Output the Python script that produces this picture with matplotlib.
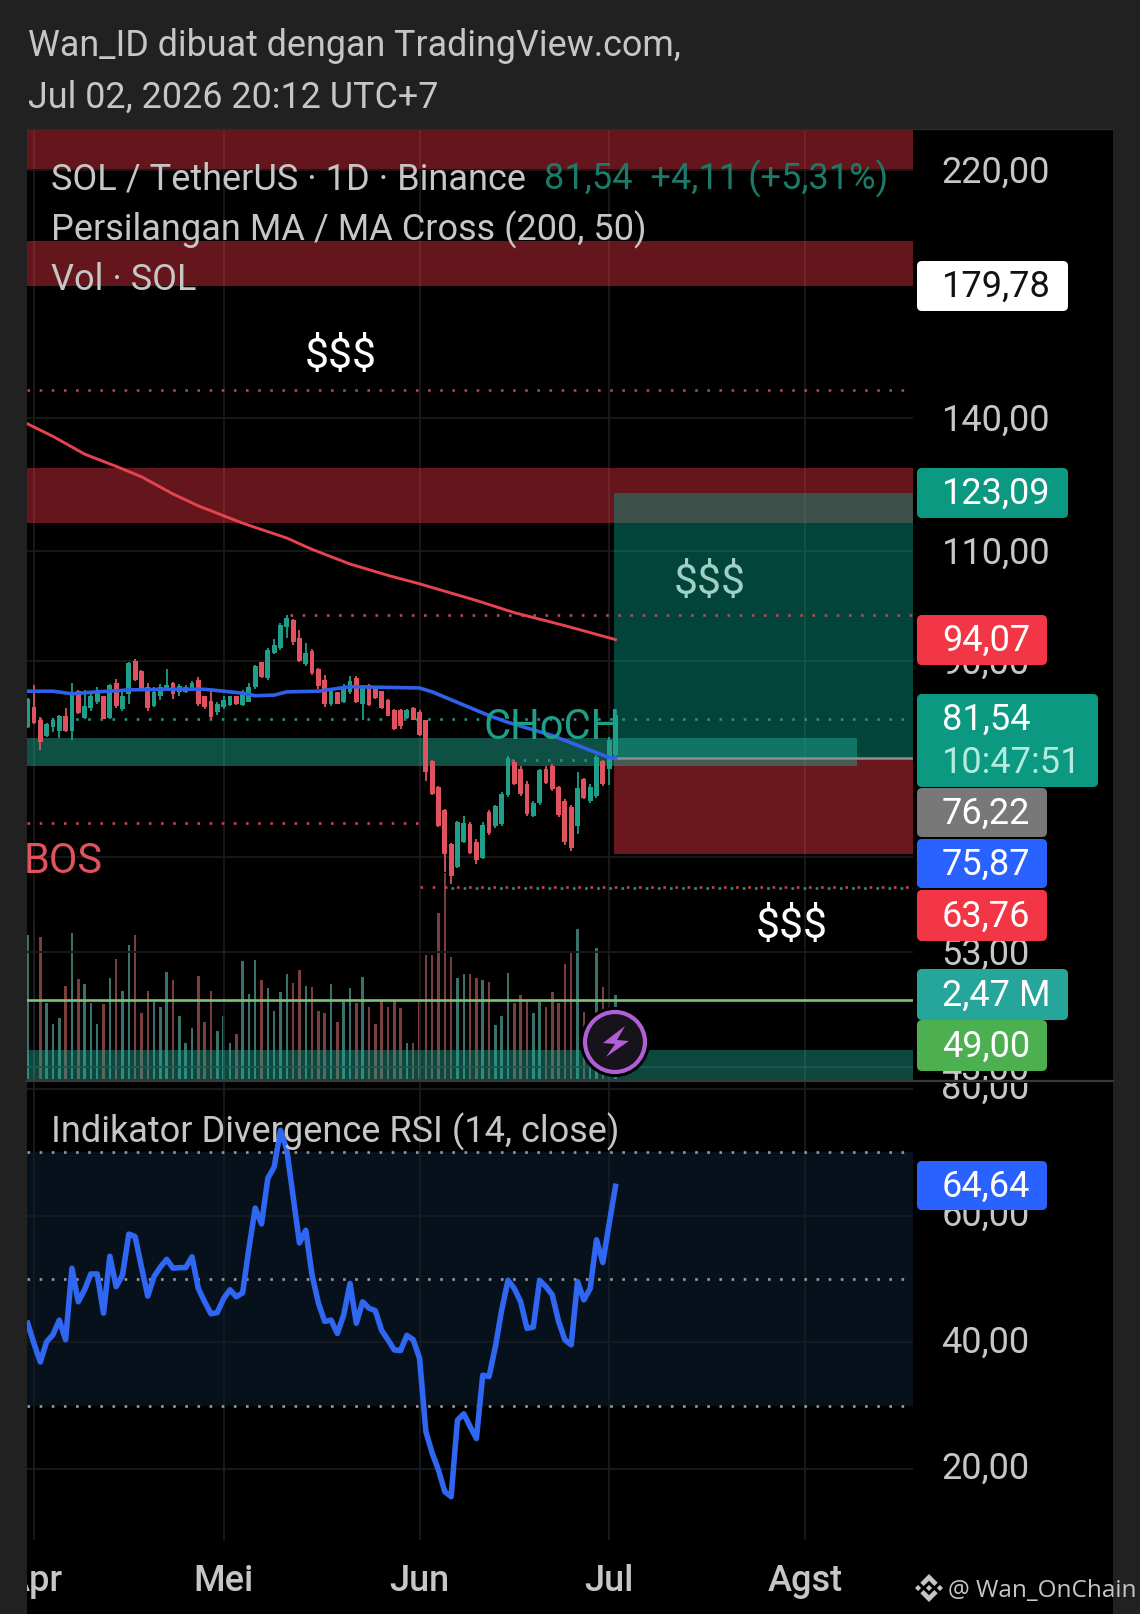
import matplotlib
matplotlib.use("Agg")
import matplotlib.pyplot as plt
import numpy as np
from matplotlib.patches import Circle, FancyBboxPatch, Polygon
from matplotlib.ticker import NullFormatter, NullLocator
from matplotlib.transforms import Bbox, ScaledTranslation

plt.rcParams["font.family"] = ["Roboto", "DejaVu Sans"]

# days counted from Apr 1, one candle per day from Mar 31 to Jul 2
days = list(range(-1, 93))

opens = [79.8, 82.8, 80.8, 78.5, 79.8, 79.3, 81.5, 79.3, 85.3, 81.1, 82.6, 83.5, 84.5, 81.2, 86.5, 82.5,
         84.8, 90.0, 88.4, 85.8, 82.9, 84.5, 85.5, 86.5, 85.0, 85.1, 85.4, 87.0, 84.4, 83.7, 82.0, 82.8,
         83.1, 84.4, 83.1, 83.6, 85.8, 89.8, 87.2, 91.4, 92.2, 95.7, 97.0, 93.9, 89.5, 91.6, 88.7,
         87.0, 83.2, 85.0, 83.5, 85.0, 87.2, 83.3, 86.2, 85.5, 85.2, 83.9, 82.3, 82.3, 81.2, 82.6, 82.0,
         80.8, 75.0, 71.5, 68.6, 64.5, 61.9, 64.8, 66.9, 64.8, 62.9, 68.4, 66.6, 66.9, 70.5, 74.9, 74.0,
         72.0, 67.9, 69.5, 74.0, 74.4, 71.5, 69.8, 69.0, 66.7, 72.6, 69.8, 70.4, 75.0, 74.0, 75.8]
highs = [84.2, 86.1, 81.3, 80.4, 81.1, 81.6, 82.7, 86.5, 85.4, 85.4, 84.9, 85.8, 84.5, 86.3, 87.1, 85.3,
         89.9, 90.3, 88.6, 86.5, 85.8, 86.3, 88.7, 86.7, 86.3, 86.1, 86.8, 87.4, 84.5, 85.3, 83.6, 84.4,
         84.5, 84.5, 85.4, 86.5, 89.4, 89.9, 92.2, 93.7, 96.4, 97.9, 97.1, 95.3, 93.0, 92.0, 88.9,
         87.7, 85.5, 85.1, 86.4, 87.6, 87.6, 86.1, 86.4, 85.6, 85.3, 84.0, 82.5, 82.5, 82.5, 82.8, 82.3,
         80.9, 75.2, 71.7, 68.8, 64.6, 67.3, 67.9, 67.1, 65.1, 67.1, 68.6, 69.3, 70.9, 75.7, 75.2, 74.3,
         72.3, 69.8, 74.0, 74.3, 74.6, 71.7, 70.0, 69.2, 73.5, 72.8, 72.0, 75.9, 75.2, 78.4, 82.5]
lows = [79.7, 80.3, 76.5, 78.4, 79.1, 78.2, 79.1, 78.0, 81.7, 81.0, 82.2, 83.2, 81.0, 81.0, 82.7, 82.2,
        83.2, 86.8, 85.3, 82.2, 82.8, 83.9, 85.3, 84.0, 84.5, 84.9, 85.3, 83.0, 82.5, 81.0, 81.6, 82.5,
        83.0, 83.1, 82.9, 83.5, 85.6, 87.2, 87.0, 91.2, 91.9, 93.9, 92.7, 89.8, 89.2, 87.8, 85.5,
        82.8, 82.9, 83.2, 83.4, 84.8, 83.4, 80.9, 83.0, 84.0, 82.5, 81.4, 79.4, 79.6, 81.0, 80.8, 78.5,
        72.3, 70.5, 66.5, 61.3, 60.0, 61.7, 64.6, 63.4, 62.2, 62.8, 65.6, 66.4, 66.7, 70.3, 71.8, 70.4,
        67.9, 67.7, 69.3, 71.9, 71.0, 67.8, 64.4, 63.7, 65.7, 70.0, 69.5, 70.1, 71.7, 71.8, 75.5]
closes = [84.0, 80.4, 77.7, 80.3, 80.9, 81.5, 79.2, 85.0, 81.9, 83.0, 84.5, 85.0, 81.0, 86.1, 83.0, 84.5,
          89.7, 87.0, 85.5, 82.6, 85.0, 85.8, 86.2, 84.8, 86.0, 85.9, 86.5, 83.2, 82.8, 81.3, 83.2, 83.9,
          84.4, 83.3, 85.0, 85.8, 89.2, 87.4, 91.9, 92.7, 96.2, 97.3, 93.1, 90.0, 91.4, 88.1, 86.0,
          83.2, 85.2, 83.3, 86.0, 86.8, 83.6, 85.9, 83.1, 84.1, 82.7, 81.5, 79.6, 79.9, 82.3, 80.9, 78.7,
          73.6, 70.7, 66.7, 63.3, 60.9, 67.1, 67.0, 63.5, 62.6, 66.8, 65.8, 69.1, 70.7, 75.4, 72.0, 70.7,
          68.1, 69.5, 73.8, 72.1, 71.3, 68.0, 64.7, 64.0, 71.4, 70.2, 71.5, 75.6, 71.9, 78.0, 81.54]

# volume in millions
volume = [4.24, 4.63, 4.19, 2.25, 1.61, 1.78, 2.75, 4.28, 2.94, 2.78, 2.23, 1.61, 2.21, 2.96, 3.52, 2.60,
          3.94, 4.24, 1.93, 2.60, 2.27, 2.13, 3.16, 2.91, 1.85, 1.07, 1.49, 3.03, 1.69, 2.60, 1.42, 1.85,
          1.07, 1.31, 3.47, 2.49, 3.50, 2.91, 2.67, 2.01, 2.57, 3.08, 2.81, 3.21, 2.74, 2.70, 2.00, 1.95,
          2.78, 1.69, 2.27, 2.67, 2.23, 2.99, 2.11, 1.62, 2.30, 2.13, 2.29, 2.10, 1.07, 1.05, 2.29, 3.65,
          3.65, 4.89, 6.06, 3.58, 2.96, 3.08, 3.08, 2.96, 2.91, 2.84, 1.59, 1.86, 3.11, 2.23, 2.47, 2.27,
          1.93, 2.27, 2.13, 2.57, 2.23, 3.37, 3.70, 4.40, 1.98, 1.54, 3.84, 2.70, 3.62, 2.47]

rsi = [43.0, 39.8, 36.9, 40.1, 41.2, 43.5, 40.4, 51.7, 46.4, 48.3, 50.8, 50.8, 44.6, 53.6, 48.8, 50.6,
       57.1, 56.7, 51.9, 47.3, 50.4, 51.9, 53.1, 51.7, 51.8, 51.8, 53.5, 48.5, 46.4, 44.5, 44.7, 46.9,
       48.3, 47.2, 47.8, 54.8, 61.2, 58.7, 65.9, 67.7, 73.5, 70.4, 63.0, 55.7, 57.7, 50.6, 46.2, 43.3,
       43.5, 41.4, 44.3, 49.3, 43.0, 46.4, 45.4, 45.0, 41.9, 40.4, 38.8, 38.7, 41.1, 40.4, 37.5, 25.9,
       22.5, 19.8, 16.4, 15.6, 27.7, 28.7, 26.7, 24.8, 34.8, 34.6, 39.3, 45.1, 49.8, 48.5, 46.4, 42.2,
       42.4, 49.8, 48.8, 47.5, 43.3, 40.4, 39.6, 49.6, 46.7, 48.5, 56.2, 52.6, 58.7, 64.64]

ma200_days = [-1, 3, 8, 13, 17, 22, 26, 33, 40, 44, 50, 56, 61, 70, 76, 84, 92]
ma200 = [138.6, 135.5, 131.2, 128.3, 125.9, 122.0, 119.4, 115.7, 112.6, 110.3, 107.4, 105.2, 103.6, 100.5,
         98.3, 96.0, 93.6]
ma50_days = [-1, 3, 6, 10, 15, 21, 27, 33, 35, 38, 40, 45, 50, 61, 63, 72, 75, 82, 91, 92]
ma50 = [85.2, 85.2, 84.8, 85.1, 85.4, 85.5, 85.5, 84.9, 84.5, 84.6, 85.1, 85.2, 85.9, 85.7, 85.1, 81.5,
        80.5, 78.6, 75.5, 75.4]

price_ticks = [220, 140, 110, 90, 63, 53, 43]
price_tick_labels = ["220,00", "140,00", "110,00", "90,00", "63,00", "53,00", "43,00"]
rsi_ticks = [80, 60, 40, 20]
rsi_tick_labels = ["80,00", "60,00", "40,00", "20,00"]
month_ticks = [0, 30, 61, 91, 122]
month_labels = ["Apr", "Mei", "Jun", "Jul", "Agst"]

W, H = 1140, 1614
LEFT, RIGHT, TOP, MID, BOTTOM, FRAME = 27, 913, 130, 1081, 1540, 1113
GREEN, RED = "#22ab94", "#f23645"
CANDLE_G, CANDLE_R = "#1f9e8a", "#e0525f"
TXT = "#c6c6c6"
XLIM = (-1.108, 139.08)


def pane(top, bottom):
    return [LEFT / W, 1 - bottom / H, (RIGHT - LEFT) / W, (bottom - top) / H]


def dotted(a, x0, x1, y, color):
    a.plot([x0, x1], [y, y], color=color, lw=1.9, ls=(0, (1, 3.6)), zorder=3)


def clip_labels(labels, x0, y0, x1, y1):
    for lab in labels:
        lab.set_clip_on(True)
        lab.set_clip_box(Bbox.from_extents(x0, H - y1, x1, H - y0))


fig = plt.figure(figsize=(W / 100, H / 100), dpi=100, facecolor="#212121")

# black back panel behind panes and the time axis
back = fig.add_axes([LEFT / W, 0, (FRAME - LEFT) / W, 1 - TOP / H], facecolor="black")
back.set_axis_off()
back.add_patch(plt.Rectangle((0, 0), 1, 1, transform=back.transAxes, color="black"))

# volume sits under the price pane
ax_vol = fig.add_axes(pane(TOP, MID), facecolor="black", zorder=1)
vol_colors = ["#3a716b" if c >= o else "#7a3e3e" for o, c in zip(opens, closes)]
ax_vol.bar(days, volume, width=0.4, color=vol_colors)
ax_vol.set_xlim(*XLIM)
ax_vol.set_ylim(-2 / 34, 949 / 34)
ax_vol.set_axis_off()

ax = fig.add_axes(pane(TOP, MID), zorder=2)
ax.patch.set_alpha(0)
ax.set_yscale("log")
ax.set_xlim(*XLIM)
ax.set_ylim(41.9, 236.7)
ax.yaxis.set_minor_locator(NullLocator())
ax.yaxis.set_minor_formatter(NullFormatter())
ax.yaxis.tick_right()
ax.set_yticks(price_ticks)
ax.set_yticklabels(price_tick_labels, va="center")
ax.set_xticks(month_ticks)
ax.set_xticklabels([])
ax.tick_params(length=0, pad=20.5, labelsize=26, labelcolor=TXT)
ax.grid(color="#1a1a1a", lw=1.3, zorder=0)
ax.set_axisbelow(True)
for s in ax.spines.values():
    s.set_visible(False)
clip_labels(ax.get_yticklabels(), RIGHT, TOP, FRAME, MID)
# price labels sit slightly lower than the rsi ones
nudge = ScaledTranslation(0, -2.5 / 100, fig.dpi_scale_trans)
for lab in ax.get_yticklabels():
    lab.set_transform(lab.get_transform() + nudge)

# zones
for lo, hi in [(220.5, 236.7), (178.2, 193.4), (115.7, 127.9)]:
    ax.axhspan(lo, hi, color=RED, alpha=0.42, lw=0, zorder=1)
ax.fill_between([XLIM[0], 130.2], 74.3, 78.3, color=GREEN, alpha=0.47, lw=0, zorder=1.5)
ax.axhspan(41.9, 44.3, color=GREEN, alpha=0.42, lw=0, zorder=1.5)
ax.fill_between([91.8, XLIM[1]], 75.5, 122.2, color="#089981", alpha=0.45, lw=0, zorder=1.2)
ax.fill_between([91.8, XLIM[1]], 63.3, 75.5, color=RED, alpha=0.44, lw=0, zorder=1.2)
ax.plot([91.8, XLIM[1]], [75.5, 75.5], color="#8e8e8e", lw=1.8, zorder=2)

dotted(ax, XLIM[0], XLIM[1], 147.5, "#b8434d")
dotted(ax, 40.5, XLIM[1], 97.9, "#a5505a")
dotted(ax, XLIM[0], XLIM[1], 81.0, "#2a8f7f")
dotted(ax, 75.5, 92, 75.2, "#2a8f7f")
dotted(ax, XLIM[0], 62, 67.0, "#c2444f")
dotted(ax, 61, XLIM[1], 59.6, "#c2444f")
dotted(ax, 66, XLIM[1], 59.55, "#2a8f7f")
ax.axhline(48.6, color="#7cc576", lw=1.9, zorder=3)

# candles
for d, o, h, l, c in zip(days, opens, highs, lows, closes):
    col = CANDLE_G if c >= o else CANDLE_R
    ax.vlines(d, l, h, color=col, lw=1.3, zorder=4)
    ax.bar(d, abs(c - o), bottom=min(o, c), width=0.76, color=col, lw=0, zorder=4)

ax.plot(ma200_days, ma200, color="#e5434f", lw=2.1, zorder=5)
ax.plot(ma50_days, ma50, color="#2f62e8", lw=2.6, zorder=5)

# RSI pane
ax_rsi = fig.add_axes(pane(MID, BOTTOM), facecolor="black", zorder=2)
ax_rsi.set_xlim(*XLIM)
ax_rsi.set_ylim(50 - 261 / 6.33, 50 + 198 / 6.33)
ax_rsi.axhspan(30, 70, color="#06111b", lw=0, zorder=0.5)
ax_rsi.yaxis.tick_right()
ax_rsi.set_yticks(rsi_ticks)
ax_rsi.set_yticklabels(rsi_tick_labels, va="center")
ax_rsi.set_xticks(month_ticks)
ax_rsi.set_xticklabels(month_labels, fontweight="medium")
ax_rsi.tick_params(length=0, labelsize=26, labelcolor=TXT)
ax_rsi.tick_params(axis="y", pad=20.5)
ax_rsi.tick_params(axis="x", pad=17)
ax_rsi.grid(color="#171c21", lw=1.3, zorder=0.6)
ax_rsi.set_axisbelow(True)
for s in ax_rsi.spines.values():
    s.set_visible(False)
for level in [70, 50, 30]:
    dotted(ax_rsi, XLIM[0], XLIM[1], level, "#9a9a9a")
ax_rsi.plot(days, rsi, color="#2f66f2", lw=4.0, zorder=5, solid_joinstyle="round")
clip_labels(ax_rsi.get_yticklabels(), RIGHT, MID + 2, FRAME, H)
clip_labels(ax_rsi.get_xticklabels(), LEFT, MID, FRAME, H)

# overlay in pixel coordinates for tags and drawing tools
ov = fig.add_axes([0, 0, 1, 1], zorder=10)
ov.set_xlim(0, W)
ov.set_ylim(H, 0)
ov.set_axis_off()
ov.patch.set_alpha(0)

ov.plot([LEFT, FRAME], [MID, MID], color="#3a3a3a", lw=1.6)
ov.plot([LEFT, FRAME], [TOP - 1, TOP - 1], color="#2c2c2c", lw=1)

tags = [
    (261, 311, 1068, "#ffffff", "179,78", "#111111"),
    (468, 518, 1068, "#0c9981", "123,09", "#ffffff"),
    (615, 665, 1047, "#f23645", "94,07", "#ffffff"),
    (788, 837, 1047, "#787878", "76,22", "#ffffff"),
    (839, 888, 1047, "#2962ff", "75,87", "#ffffff"),
    (890, 941, 1047, "#f23645", "63,76", "#ffffff"),
    (969, 1020, 1068, "#26a69a", "2,47 M", "#ffffff"),
    (1020, 1071, 1047, "#4caf50", "49,00", "#ffffff"),
    (1161, 1210, 1047, "#2962ff", "64,64", "#ffffff"),
]
for y0, y1, x1, col, label, tc in tags:
    ov.add_patch(FancyBboxPatch((917, y0), x1 - 917, y1 - y0, boxstyle="round,pad=0,rounding_size=5",
                                fc=col, ec="none"))
    ov.text(942, (y0 + y1) / 2 - 3, label, color=tc, fontsize=26, va="center_baseline", ha="left")
ov.add_patch(FancyBboxPatch((917, 694), 181, 93, boxstyle="round,pad=0,rounding_size=5", fc="#0c9981", ec="none"))
ov.text(942, 716, "81,54", color="#ffffff", fontsize=26, va="center_baseline")
ov.text(942, 759, "10:47:51", color="#b5ebdc", fontsize=26, va="center_baseline")

# header and legend lines
ov.text(27.5, 42, "Wan_ID dibuat dengan TradingView.com,", color=TXT, fontsize=25.8, va="center_baseline")
ov.text(27.5, 94, "Jul 02, 2026 20:12 UTC+7", color=TXT, fontsize=25.8, va="center_baseline")
ov.text(51, 175, "SOL / TetherUS · 1D · Binance", color=TXT, fontsize=26, va="center_baseline")
ov.text(544, 175, "81,54  +4,11 (+5,31%)", color="#1b7a68", fontsize=26, va="center_baseline")
ov.text(51, 226, "Persilangan MA / MA Cross (200, 50)", color=TXT, fontsize=26, va="center_baseline")
ov.text(51, 276, "Vol · SOL", color=TXT, fontsize=26, va="center_baseline")
ov.text(51, 1128, "Indikator Divergence RSI (14, close)", color=TXT, fontsize=26, va="center_baseline")

ov.text(341, 352, "$$$", color="#ffffff", fontsize=31, ha="center", va="center_baseline")
ov.text(710, 578, "$$$", color="#9ed0c4", fontsize=31, ha="center", va="center_baseline")
ov.text(792, 922, "$$$", color="#ffffff", fontsize=31, ha="center", va="center_baseline")
ov.text(552, 723, "CHoCH", color="#1f9e8a", fontsize=30, ha="center", va="center_baseline")
ov.text(24, 857, "BOS", color="#e0525f", fontsize=30, ha="left", va="center_baseline")

# lightning badge
ov.add_patch(Circle((615, 1042), 33, fc="#16131b", ec="#000000", lw=3))
ov.add_patch(Circle((615, 1042), 30, fc="#16131b", ec="#b25ed6", lw=3))
ov.add_patch(Polygon([(625, 1026), (603, 1043), (615, 1044), (606, 1057), (629, 1041), (617, 1040)],
                     fc="#b25ed6", ec="none"))

# watermark
cx, cy, s = 929, 1588, 14
chev = [(0, -1), (0.62, -0.38), (0.38, -0.14), (0, -0.52), (-0.38, -0.14), (-0.62, -0.38)]
for sign in (1, -1):
    ov.add_patch(Polygon([(cx + s * a, cy + sign * s * b) for a, b in chev], fc=TXT, ec="none"))
for dx in (-0.78, 0, 0.78):
    r = 0.22
    ov.add_patch(Polygon([(cx + s * (dx + r), cy), (cx + s * dx, cy + s * r), (cx + s * (dx - r), cy),
                          (cx + s * dx, cy - s * r)], fc=TXT, ec="none"))
ov.text(948, 1588, "@ Wan_OnChain", color=TXT, fontsize=17.5, family="Open Sans", va="center_baseline")

fig.savefig("out.png", dpi=100, facecolor=fig.get_facecolor())
